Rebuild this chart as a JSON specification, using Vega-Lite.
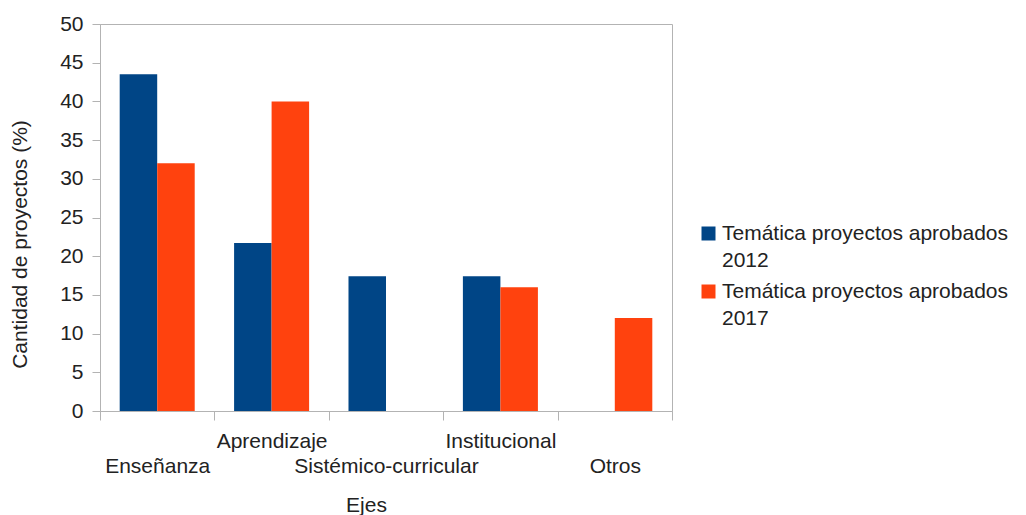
{
  "$schema": "https://vega.github.io/schema/vega-lite/v6.json",
  "width": 572,
  "height": 387,
  "autosize": "none",
  "padding": {"left": 100, "top": 24, "right": 354, "bottom": 104},
  "background": "white",
  "config": {
    "font": "Liberation Sans",
    "view": {"stroke": "#b3b3b3", "strokeWidth": 1},
    "style": {"guide-label": {"lineHeight": 27}},
    "axis": {
      "domainColor": "#b3b3b3",
      "tickColor": "#b3b3b3",
      "labelColor": "#222222",
      "titleColor": "#222222",
      "labelFontSize": 21,
      "titleFontSize": 21,
      "titleFontWeight": "normal",
      "grid": false
    },
    "legend": {"labelFontSize": 21, "labelColor": "#222222"}
  },
  "data": {
    "values": [
      {"eje": "Enseñanza", "serie": "2012", "valor": 43.5},
      {"eje": "Enseñanza", "serie": "2017", "valor": 32},
      {"eje": "Aprendizaje", "serie": "2012", "valor": 21.7},
      {"eje": "Aprendizaje", "serie": "2017", "valor": 40},
      {"eje": "Sistémico-curricular", "serie": "2012", "valor": 17.4},
      {"eje": "Sistémico-curricular", "serie": "2017", "valor": 0},
      {"eje": "Institucional", "serie": "2012", "valor": 17.4},
      {"eje": "Institucional", "serie": "2017", "valor": 16},
      {"eje": "Otros", "serie": "2012", "valor": 0},
      {"eje": "Otros", "serie": "2017", "valor": 12}
    ]
  },
  "mark": {"type": "bar"},
  "encoding": {
    "x": {
      "field": "eje",
      "type": "nominal",
      "sort": ["Enseñanza", "Aprendizaje", "Sistémico-curricular", "Institucional", "Otros"],
      "scale": {"paddingInner": 0, "paddingOuter": 0},
      "axis": {
        "title": "Ejes",
        "labelAngle": 0,
        "tickBand": "extent",
        "tickSize": 9,
        "labelPadding": {"expr": "datum.value == 'Aprendizaje' || datum.value == 'Institucional' ? 10 : 35"},
        "labelLimit": 400,
        "titleX": 266,
        "titleY": 94,
        "titleBaseline": "middle"
      }
    },
    "xOffset": {
      "field": "serie",
      "type": "nominal",
      "scale": {"paddingInner": 0, "paddingOuter": 0.525}
    },
    "y": {
      "field": "valor",
      "type": "quantitative",
      "scale": {"domain": [0, 50], "nice": false},
      "axis": {
        "title": "Cantidad de proyectos (%)",
        "values": [0, 5, 10, 15, 20, 25, 30, 35, 40, 45, 50],
        "tickSize": 8,
        "labelPadding": 9,
        "titleX": -80,
        "titleY": 220,
        "titleBaseline": "middle",
        "titleAlign": "center"
      }
    },
    "color": {
      "field": "serie",
      "type": "nominal",
      "scale": {"domain": ["2012", "2017"], "range": ["#004586", "#ff420e"]},
      "legend": {
        "title": null,
        "orient": "none",
        "legendX": 598,
        "legendY": 199,
        "padding": 0,
        "symbolType": "square",
        "symbolSize": 196,
        "symbolStrokeWidth": 0,
        "labelExpr": "['Temática proyectos aprobados', datum.label]",
        "labelBaseline": "middle",
        "labelLimit": 400,
        "labelOffset": 3,
        "rowPadding": 9
      }
    }
  }
}
